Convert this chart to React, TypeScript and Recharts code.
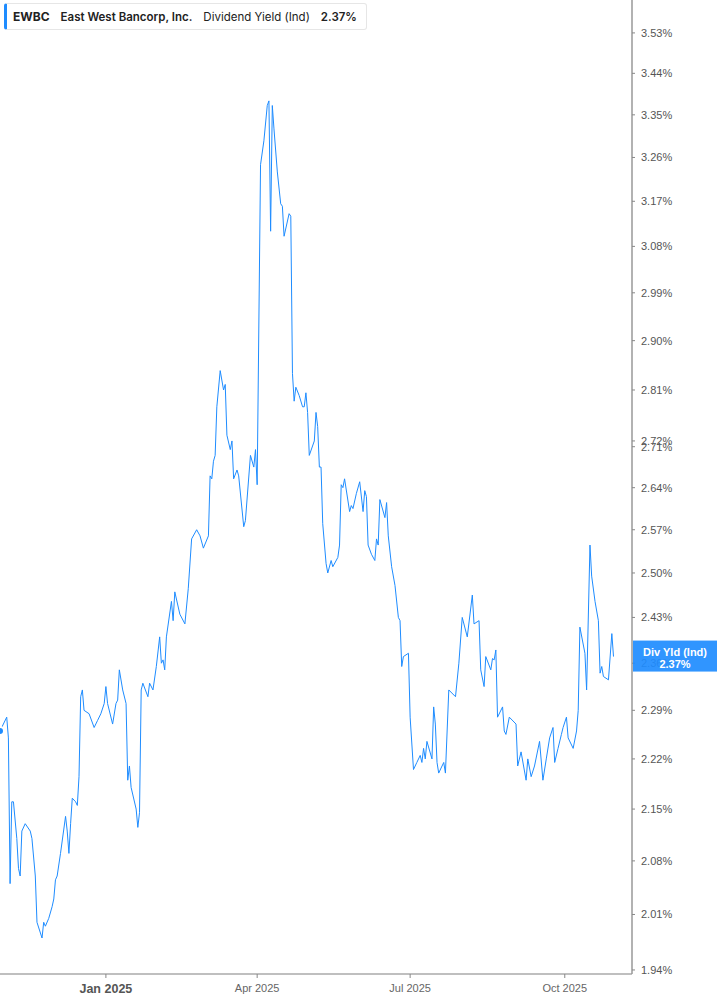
import { LineChart, Line, XAxis, YAxis, ReferenceLine } from "recharts";

const dates = [
  "2024-10-30", "2024-11-03", "2024-11-04", "2024-11-05", "2024-11-06", "2024-11-07", "2024-11-09", "2024-11-10", "2024-11-11", "2024-11-12",
  "2024-11-14", "2024-11-17", "2024-11-18", "2024-11-20", "2024-11-21", "2024-11-24", "2024-11-25", "2024-11-26", "2024-11-28", "2024-11-30",
  "2024-12-01", "2024-12-02", "2024-12-03", "2024-12-05", "2024-12-08", "2024-12-09", "2024-12-10", "2024-12-11", "2024-12-12", "2024-12-14",
  "2024-12-15", "2024-12-16", "2024-12-17", "2024-12-18", "2024-12-19", "2024-12-22", "2024-12-25", "2024-12-27", "2024-12-29", "2024-12-31",
  "2025-01-01", "2025-01-02", "2025-01-05", "2025-01-07", "2025-01-08", "2025-01-09", "2025-01-11", "2025-01-13", "2025-01-14", "2025-01-15",
  "2025-01-16", "2025-01-19", "2025-01-20", "2025-01-21", "2025-01-22", "2025-01-23", "2025-01-26", "2025-01-27", "2025-01-29", "2025-01-31",
  "2025-02-02", "2025-02-03", "2025-02-04", "2025-02-05", "2025-02-06", "2025-02-09", "2025-02-10", "2025-02-11", "2025-02-14", "2025-02-17",
  "2025-02-19", "2025-02-21", "2025-02-24", "2025-02-26", "2025-02-28", "2025-03-03", "2025-03-04", "2025-03-05", "2025-03-06", "2025-03-07",
  "2025-03-08", "2025-03-10", "2025-03-12", "2025-03-13", "2025-03-14", "2025-03-16", "2025-03-17", "2025-03-18", "2025-03-20", "2025-03-21",
  "2025-03-24", "2025-03-25", "2025-03-28", "2025-03-30", "2025-03-31", "2025-04-01", "2025-04-03", "2025-04-05", "2025-04-07", "2025-04-08",
  "2025-04-09", "2025-04-10", "2025-04-11", "2025-04-13", "2025-04-15", "2025-04-16", "2025-04-17", "2025-04-20", "2025-04-21", "2025-04-22",
  "2025-04-23", "2025-04-24", "2025-04-26", "2025-04-28", "2025-04-29", "2025-04-30", "2025-05-01", "2025-05-02", "2025-05-05", "2025-05-06",
  "2025-05-07", "2025-05-08", "2025-05-09", "2025-05-10", "2025-05-12", "2025-05-13", "2025-05-15", "2025-05-16", "2025-05-19", "2025-05-20",
  "2025-05-21", "2025-05-22", "2025-05-23", "2025-05-26", "2025-05-27", "2025-05-28", "2025-05-30", "2025-06-01", "2025-06-03", "2025-06-04",
  "2025-06-05", "2025-06-06", "2025-06-08", "2025-06-10", "2025-06-11", "2025-06-12", "2025-06-13", "2025-06-16", "2025-06-17", "2025-06-18",
  "2025-06-20", "2025-06-22", "2025-06-24", "2025-06-25", "2025-06-26", "2025-06-27", "2025-06-30", "2025-07-01", "2025-07-03", "2025-07-05",
  "2025-07-07", "2025-07-08", "2025-07-09", "2025-07-10", "2025-07-11", "2025-07-14", "2025-07-15", "2025-07-16", "2025-07-17", "2025-07-18",
  "2025-07-21", "2025-07-22", "2025-07-24", "2025-07-28", "2025-07-30", "2025-08-01", "2025-08-04", "2025-08-07", "2025-08-08", "2025-08-11",
  "2025-08-12", "2025-08-14", "2025-08-15", "2025-08-18", "2025-08-19", "2025-08-20", "2025-08-21", "2025-08-22", "2025-08-25", "2025-08-26",
  "2025-08-27", "2025-08-29", "2025-09-02", "2025-09-03", "2025-09-05", "2025-09-08", "2025-09-09", "2025-09-11", "2025-09-13", "2025-09-16",
  "2025-09-18", "2025-09-20", "2025-09-22", "2025-09-24", "2025-09-25", "2025-09-27", "2025-09-29", "2025-09-30", "2025-10-02", "2025-10-03",
  "2025-10-06", "2025-10-08", "2025-10-09", "2025-10-10", "2025-10-13", "2025-10-14", "2025-10-16", "2025-10-17", "2025-10-19", "2025-10-21",
  "2025-10-22", "2025-10-23", "2025-10-24", "2025-10-27", "2025-10-29", "2025-10-30",
];

// dividend yield (Ind), %
const yieldPct = [
  2.26, 2.28, 2.25, 2.05, 2.16, 2.16, 2.11, 2.07, 2.06, 2.12,
  2.13, 2.12, 2.11, 2.06, 2.0, 1.98, 2.0, 1.995, 2.005, 2.02,
  2.03, 2.055, 2.06, 2.09, 2.14, 2.12, 2.09, 2.13, 2.165, 2.16,
  2.155, 2.195, 2.31, 2.32, 2.29, 2.285, 2.265, 2.275, 2.285, 2.3,
  2.325, 2.3, 2.27, 2.3, 2.305, 2.35, 2.32, 2.3, 2.19, 2.21,
  2.18, 2.15, 2.125, 2.145, 2.32, 2.33, 2.31, 2.33, 2.32, 2.355,
  2.4, 2.36, 2.365, 2.35, 2.4, 2.455, 2.425, 2.47, 2.435, 2.42,
  2.475, 2.555, 2.57, 2.56, 2.54, 2.56, 2.66, 2.655, 2.685, 2.695,
  2.78, 2.845, 2.81, 2.82, 2.73, 2.705, 2.72, 2.655, 2.67, 2.66,
  2.575, 2.585, 2.695, 2.675, 2.705, 2.645, 3.245, 3.295, 3.37, 3.38,
  3.11, 3.37, 3.32, 3.23, 3.165, 3.16, 3.1, 3.145, 3.14, 2.84,
  2.79, 2.815, 2.8, 2.78, 2.78, 2.805, 2.77, 2.695, 2.72, 2.77,
  2.745, 2.675, 2.675, 2.58, 2.515, 2.5, 2.52, 2.51, 2.525, 2.545,
  2.645, 2.64, 2.655, 2.6, 2.61, 2.605, 2.63, 2.65, 2.6, 2.635,
  2.625, 2.545, 2.53, 2.52, 2.555, 2.545, 2.62, 2.59, 2.615, 2.56,
  2.51, 2.48, 2.43, 2.425, 2.355, 2.37, 2.375, 2.28, 2.205, 2.215,
  2.225, 2.215, 2.235, 2.22, 2.245, 2.22, 2.295, 2.27, 2.215, 2.2,
  2.215, 2.2, 2.32, 2.31, 2.36, 2.43, 2.4, 2.465, 2.42, 2.425,
  2.35, 2.325, 2.37, 2.35, 2.367, 2.365, 2.38, 2.28, 2.295, 2.26,
  2.255, 2.28, 2.27, 2.21, 2.23, 2.19, 2.22, 2.195, 2.21, 2.245,
  2.19, 2.22, 2.25, 2.265, 2.215, 2.235, 2.255, 2.265, 2.28, 2.25,
  2.235, 2.26, 2.29, 2.415, 2.375, 2.32, 2.545, 2.495, 2.455, 2.425,
  2.345, 2.355, 2.34, 2.335, 2.405, 2.37,
];

const yTicks = [3.53, 3.44, 3.35, 3.26, 3.17, 3.08, 2.99, 2.9, 2.81, 2.72, 2.71, 2.64, 2.57, 2.5, 2.43, 2.36, 2.29, 2.22, 2.15, 2.08, 2.01, 1.94];
const xTickDates = ["2025-01-01", "2025-04-01", "2025-07-01", "2025-10-01"];
const xTickLabels = ["Jan 2025", "Apr 2025", "Jul 2025", "Oct 2025"];
const xRange = ["2024-10-30", "2025-11-10"];
const lastYield = 2.37;

const DAY = 86400000;
const origin = Date.parse("2025-01-01");
const toDay = (d: string) => Math.round((Date.parse(d) - origin) / DAY);

const data = dates.map((d, i) => ({ t: toDay(d), date: d, y: yieldPct[i] }));
const xTicks = xTickDates.map(toDay);

const BLUE = "#1e8cff";
const FONT = "'Liberation Sans', Arial, sans-serif";

function XTick({ x, y, payload }: any) {
  const i = xTicks.indexOf(payload.value);
  const year = i === 0;
  return (
    <text
      x={x}
      y={y}
      dy="0.71em"
      textAnchor="middle"
      fill={year ? "#555" : "#666"}
      fontSize={year ? 12.5 : 11}
      fontWeight={year ? 700 : 400}
      fontFamily={FONT}
    >
      {xTickLabels[i]}
    </text>
  );
}

function PriceTag({ viewBox }: any) {
  const x = viewBox.x + viewBox.width + 1;
  const y = viewBox.y;
  return (
    <g fontFamily={FONT} fontWeight={700} fontSize={11} fill="#fff" textAnchor="middle">
      <rect x={x} y={y - 16} width={85} height={31} fill={BLUE} fillOpacity={0.92} />
      <text x={x + 42} y={y - 1}>Div Yld (Ind)</text>
      <text x={x + 42} y={y + 11}>{lastYield.toFixed(2)}%</text>
    </g>
  );
}

export default function App() {
  return (
    <div style={{ position: "absolute", left: 0, top: 0, width: 717, height: 1005, background: "#fff" }}>
      <LineChart width={717} height={1005} data={data} margin={{ top: 0, right: 0, bottom: 0, left: 0 }}>
        <XAxis
          type="number"
          dataKey="t"
          domain={xRange.map(toDay)}
          allowDataOverflow
          ticks={xTicks}
          interval={0}
          height={31}
          tickSize={4}
          tickMargin={6}
          axisLine={{ stroke: "#aaa", strokeWidth: 1.5 }}
          tickLine={{ stroke: "#888" }}
          tick={<XTick />}
        />
        <YAxis
          orientation="right"
          scale="log"
          domain={[1.935, 3.605]}
          allowDataOverflow
          ticks={yTicks}
          interval={0}
          width={85}
          tickSize={3}
          tickMargin={6}
          axisLine={{ stroke: "#999", strokeWidth: 1.5 }}
          tickLine={{ stroke: "#888" }}
          tick={{ fill: "#555", fontSize: 11, fontFamily: FONT }}
          tickFormatter={(v: number) => `${v.toFixed(2)}%`}
        />
        <Line type="linear" dataKey="y" stroke={BLUE} strokeWidth={1} dot={false} isAnimationActive={false} />
        <ReferenceLine y={lastYield} stroke="none" zIndex={2500} label={<PriceTag />} />
      </LineChart>
      <div
        style={{
          position: "absolute",
          left: 4,
          top: 3,
          height: 27,
          width: 363,
          boxSizing: "border-box",
          border: "1px solid #e6e6e6",
          borderLeft: `3px solid ${BLUE}`,
          borderRadius: 3,
          background: "#fff",
          display: "flex",
          alignItems: "center",
          paddingLeft: 6,
          gap: 11,
          fontFamily: "Inter, 'Noto Sans', sans-serif",
          fontSize: 11.5,
          color: "#222",
          whiteSpace: "nowrap",
        }}
      >
        <span style={{ fontWeight: 700, fontSize: 12 }}>EWBC</span>
        <span style={{ fontWeight: 600 }}>East West Bancorp, Inc.</span>
        <span style={{ fontWeight: 400 }}>Dividend Yield (Ind)</span>
        <span style={{ fontWeight: 600 }}>2.37%</span>
      </div>
    </div>
  );
}
